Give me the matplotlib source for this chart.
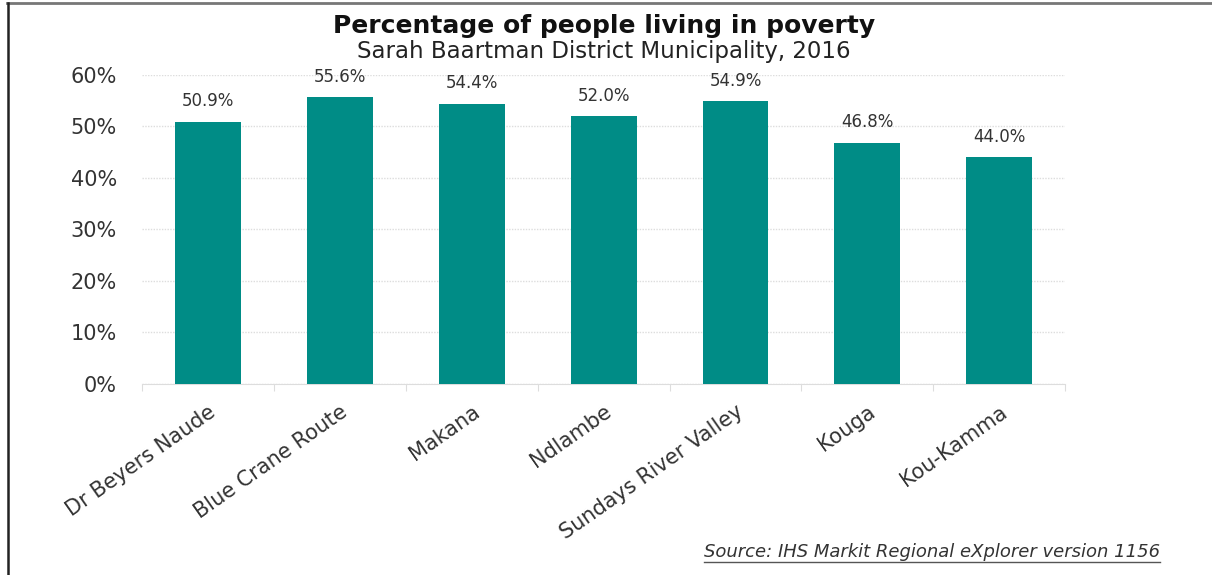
import matplotlib.pyplot as plt
import numpy as np
from matplotlib.lines import Line2D

municipalities = ["Dr Beyers Naude", "Blue Crane Route", "Makana", "Ndlambe",
                  "Sundays River Valley", "Kouga", "Kou-Kamma"]
poverty_pct = [50.9, 55.6, 54.4, 52.0, 54.9, 46.8, 44.0]
yticks = [0, 10, 20, 30, 40, 50, 60]

teal = "#008C86"
plt.rcParams['font.family'] = ['DejaVu Sans']

fig = plt.figure(figsize=(12.12, 5.75), dpi=100)
ax = fig.add_axes([0.117, 0.333, 0.762, 0.537])

x = np.arange(len(municipalities))
bars = ax.bar(x, poverty_pct, width=0.5, color=teal, zorder=3)

for xi, v in zip(x, poverty_pct):
    ax.text(xi, v + 2.2, "%.1f%%" % v, ha="center", va="bottom",
            fontsize=12, color="#333333")

ax.set_xlim(-0.5, len(municipalities) - 0.5)
ax.set_ylim(0, 60)
ax.set_yticks(yticks)
ax.set_yticklabels(["%d%%" % t for t in yticks], fontsize=15, color="#333333")
ax.tick_params(axis="y", length=0, pad=18)

# category boundary ticks along the bottom
ax.set_xticks(np.arange(-0.5, len(municipalities)), minor=False)
ax.set_xticklabels([])
ax.tick_params(axis="x", which="major", length=5, color="#dddddd", width=0.8)
ax.set_xticks(x, minor=True)
ax.set_xticklabels(municipalities, minor=True, rotation=35, ha="right",
                   rotation_mode="anchor", fontsize=15, color="#333333")
ax.tick_params(axis="x", which="minor", length=0, pad=13)

ax.grid(axis="y", color="#dddddd", linestyle=(0, (1, 1)), linewidth=1, zorder=0)
for s in ["top", "right", "left"]:
    ax.spines[s].set_visible(False)
ax.spines["bottom"].set_color("#dddddd")

fig.text(0.498, 0.942, "Percentage of people living in poverty", ha="center",
         va="baseline", fontsize=18, fontweight="bold", color="#111111")
fig.text(0.498, 0.899, "Sarah Baartman District Municipality, 2016", ha="center",
         va="baseline", fontsize=16.5, color="#222222")
src = fig.text(0.957, 0.04, "Source: IHS Markit Regional eXplorer version 1156",
               ha="right", va="center", fontsize=13, style="italic", color="#333333")

# underline the source note to its drawn width
fig.canvas.draw()
bb = src.get_window_extent().transformed(fig.transFigure.inverted())
fig.add_artist(Line2D([bb.x0, bb.x1], [0.022, 0.022], color="#555555", linewidth=1))

# frame lines on top and left edge
fig.add_artist(Line2D([0.006, 1.0], [0.994, 0.994], color="#777777", linewidth=2))
fig.add_artist(Line2D([0.0066, 0.0066], [0.0, 0.994], color="#222222", linewidth=1.8))

fig.savefig("out.png", dpi=100)
